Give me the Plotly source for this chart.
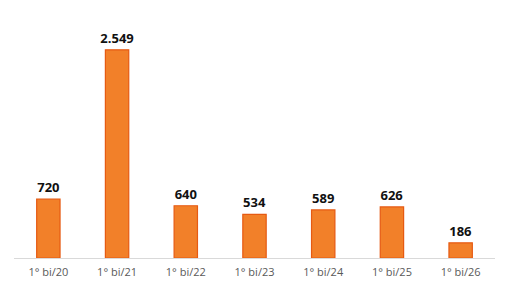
import plotly.graph_objects as go

categories = ["1° bi/20", "1° bi/21", "1° bi/22", "1° bi/23", "1° bi/24", "1° bi/25", "1° bi/26"]
values = [720, 2549, 640, 534, 589, 626, 186]
labels = ["720", "2.549", "640", "534", "589", "626", "186"]

fig = go.Figure(go.Bar(
    x=categories, y=values, text=labels, textposition="outside",
    textfont=dict(family="Open Sans", size=13, color="#111111"),
    marker=dict(color="#F28029", line=dict(color="#E65A12", width=1.2)),
    width=0.34, cliponaxis=False, constraintext="none",
))
fig.update_traces(texttemplate="<b>%{text}</b>")
fig.update_layout(
    width=512, height=290, margin=dict(l=14, r=17, t=13, b=32),
    paper_bgcolor="white", plot_bgcolor="white", showlegend=False,
    xaxis=dict(showline=True, linecolor="#D9D9D9", linewidth=1,
               ticks="outside", ticklen=4, tickcolor="rgba(0,0,0,0)",
               tickfont=dict(family="Open Sans", size=11, color="#595959")),
    yaxis=dict(range=[0, 3000], visible=False, showgrid=False),
)
fig.write_html("out.html")
